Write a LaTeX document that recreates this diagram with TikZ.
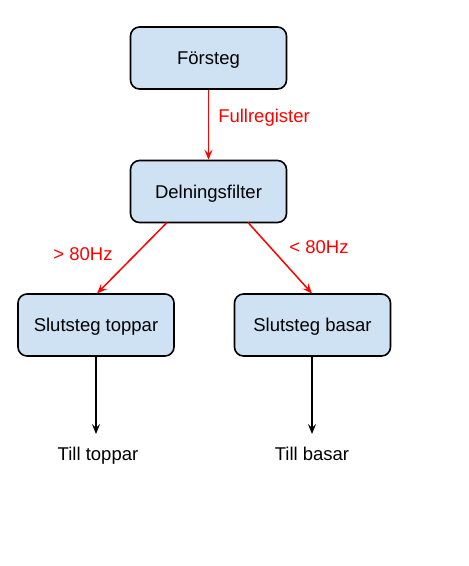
\documentclass[tikz,border=0pt]{standalone}
\usepackage{fontspec}
\setmainfont{Liberation Sans}
\usetikzlibrary{arrows.meta}
\definecolor{boxfill}{HTML}{CFE2F3}
\begin{document}
\begin{tikzpicture}[x=1pt,y=-1pt,
  stage/.style={draw=black,line width=1.6pt,fill=boxfill,rounded corners=9pt,
    minimum width=156pt,minimum height=62pt,inner sep=0pt,text height=13pt,text depth=0pt,
    font=\fontsize{18.5}{21}\selectfont},
  redarrow/.style={draw=red,line width=1.5pt,-{Stealth[length=10pt,width=8pt,inset=4pt]}},
  blkarrow/.style={draw=black,line width=1.5pt,-{Stealth[length=10pt,width=8pt,inset=4pt]}},
  redlabel/.style={text=red,font=\fontsize{18.5}{21}\selectfont,inner sep=0pt,anchor=base},
  outlabel/.style={font=\fontsize{18.5}{21}\selectfont,inner sep=0pt,anchor=base}]
\useasboundingbox (0,0) rectangle (469,566);
\node[stage] (f) at (208.5,58) {Försteg};
\node[stage] (d) at (208.5,191.5) {Delningsfilter};
\node[stage] (t) at (96,325) {Slutsteg toppar};
\node[stage] (b) at (312.5,325) {Slutsteg basar};
\coordinate (dl) at (167,222.5);
\coordinate (dr) at (248,222.5);
\coordinate (tt) at (97,293.5);
\coordinate (bt) at (312,293.5);
\coordinate (te) at (96,434);
\coordinate (be) at (312,434);
\draw[redarrow] (f.south) -- (d.north);
\draw[redarrow] (dl) -- (tt);
\draw[redarrow] (dr) -- (bt);
\draw[blkarrow] (t.south) -- (te);
\draw[blkarrow] (b.south -| be) -- (be);
\node[redlabel] (lf) at (264,122) {Fullregister};
\node[redlabel] (ll) at (83,260) {> 80Hz};
\node[redlabel] (lr) at (319,253) {< 80Hz};
\node[outlabel] (ot) at (98,460) {Till toppar};
\node[outlabel] (ob) at (312,460) {Till basar};
\end{tikzpicture}
\end{document}
